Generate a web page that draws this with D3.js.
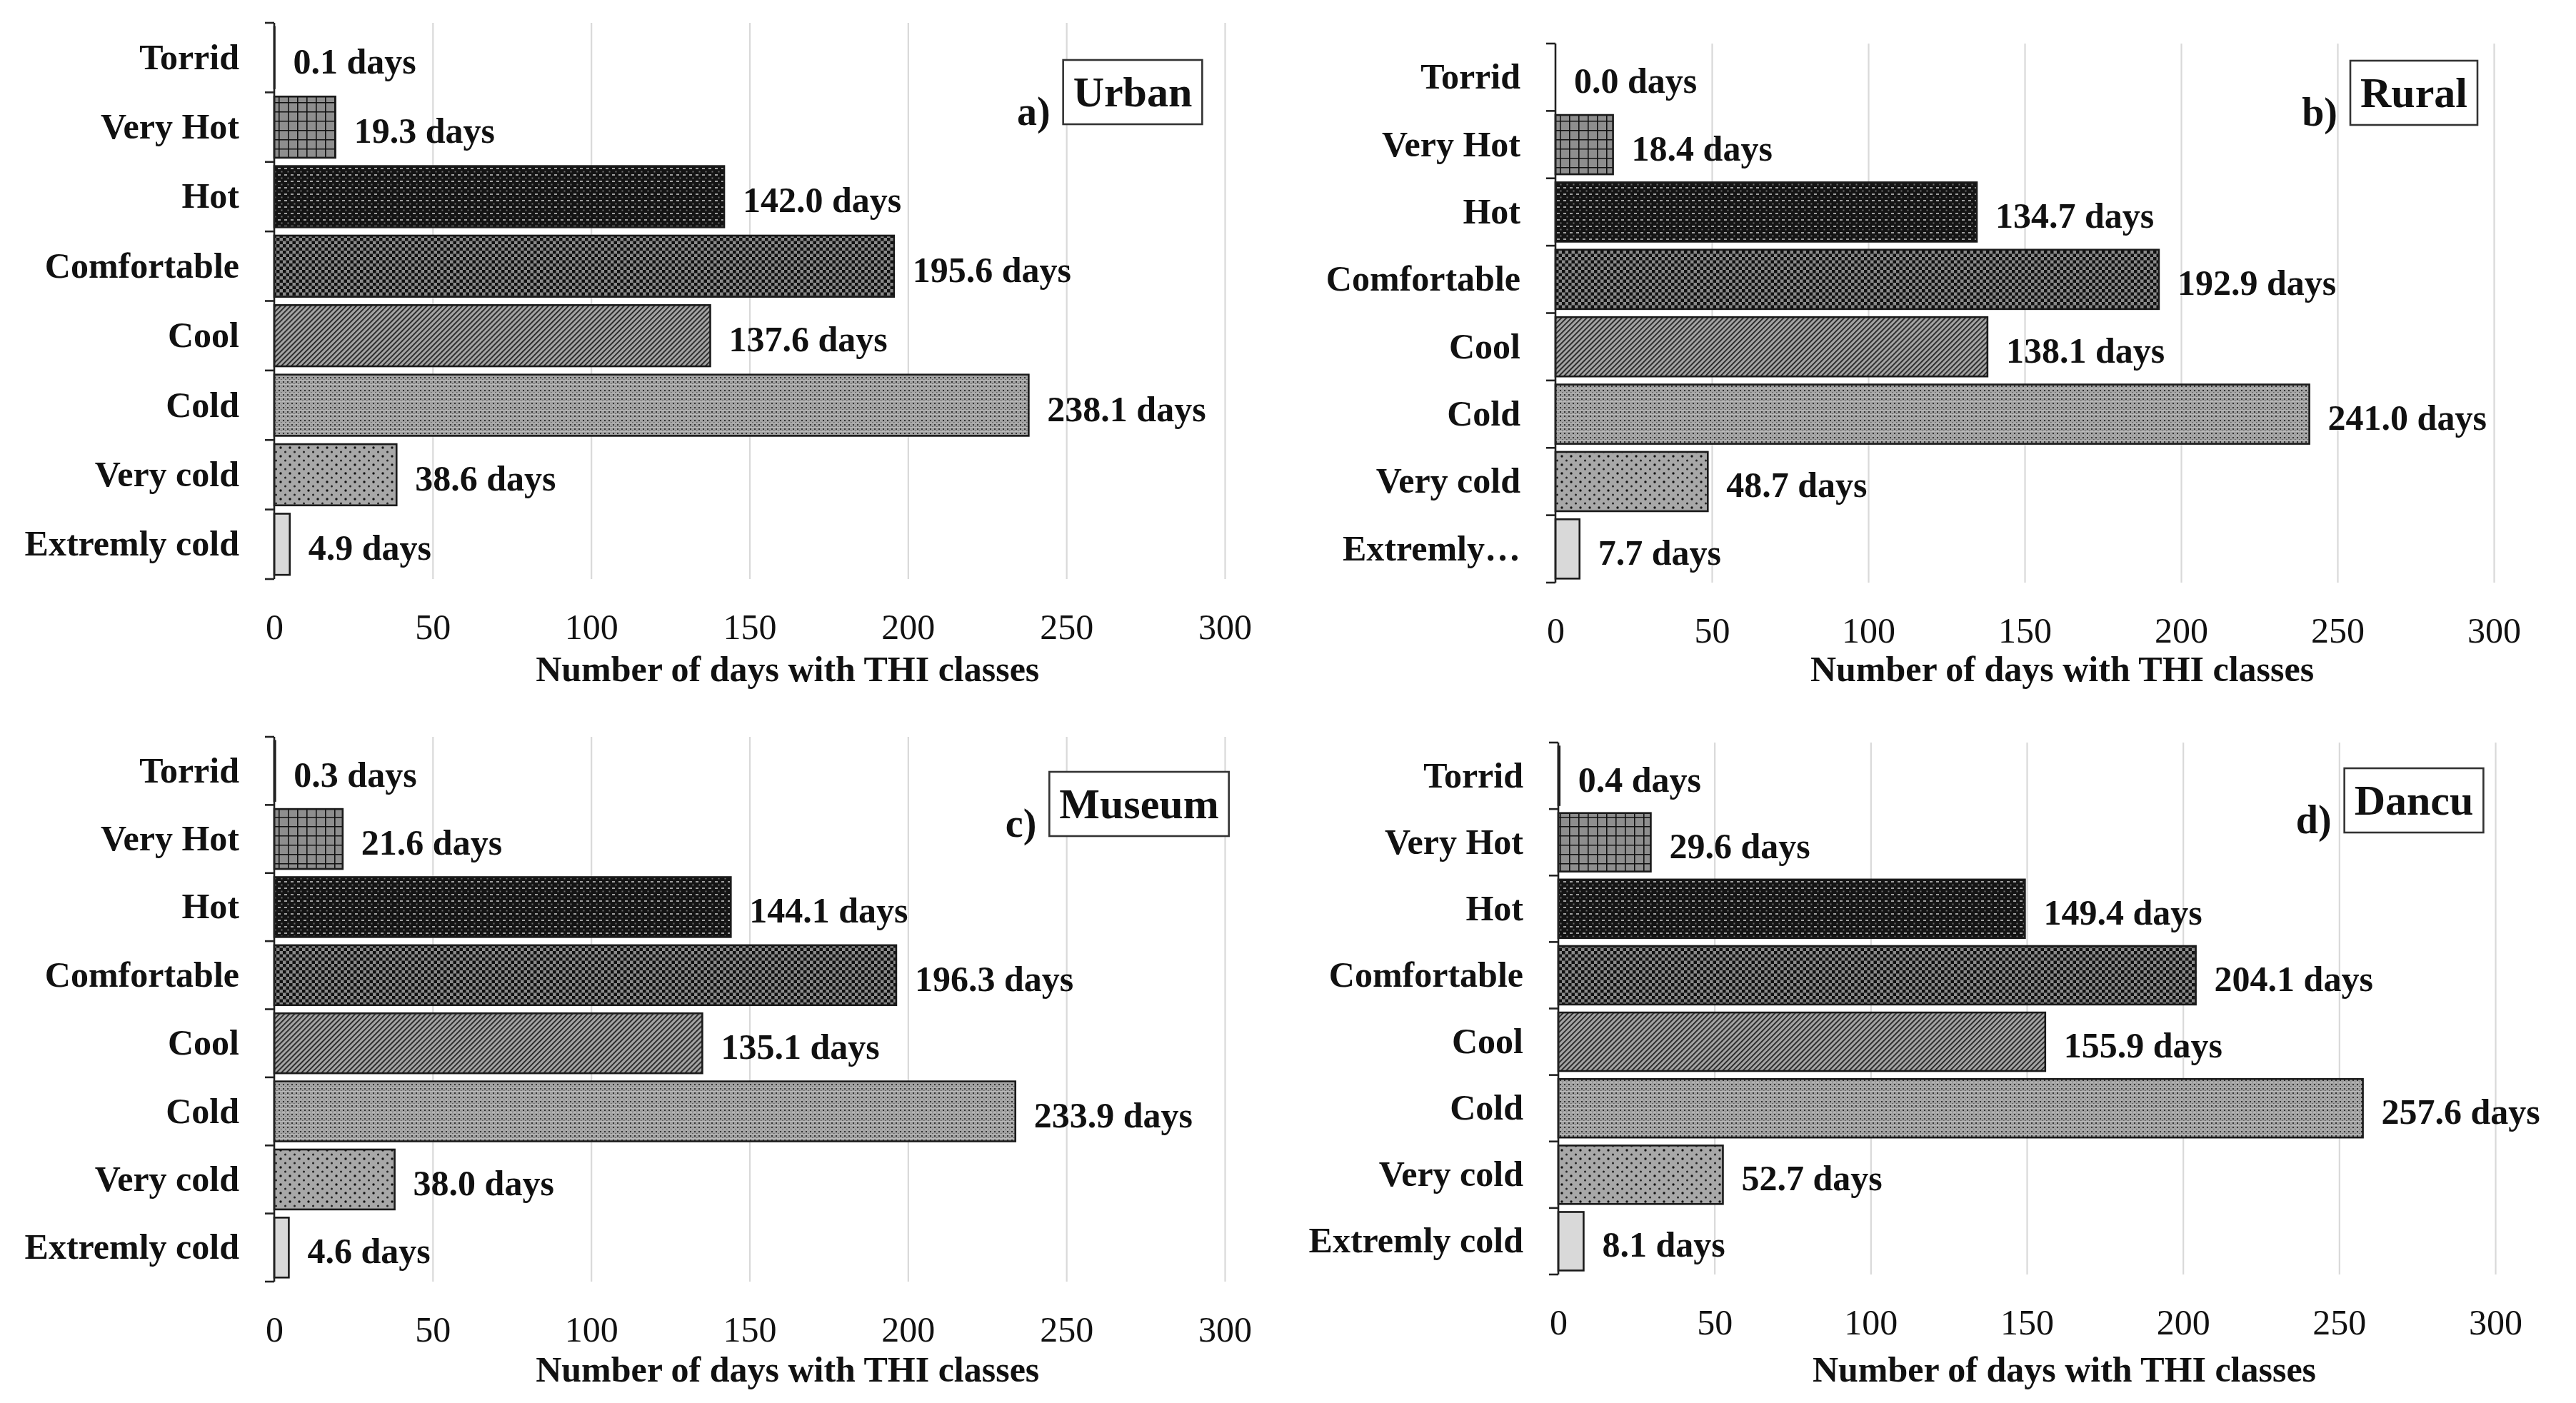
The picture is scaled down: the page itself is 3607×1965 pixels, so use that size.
<!DOCTYPE html>
<html lang="en">
<head>
<meta charset="UTF-8">
<title>THI classes</title>
<style>
  body { margin: 0; background: #fff; }
  svg { display: block; }
  text { font-family: "Liberation Serif", "Times New Roman", serif; fill: #111; }
</style>
</head>
<body>
<div id="chart"></div>
<script src="https://d3js.org/d3.v7.min.js"></script>
<script>
// category names (top to bottom) and days per THI class for each station
const categories = ["Torrid", "Very Hot", "Hot", "Comfortable", "Cool", "Cold", "Very cold", "Extremly cold"];
const ruralLabels = ["Torrid", "Very Hot", "Hot", "Comfortable", "Cool", "Cold", "Very cold", "Extremly…"];
const urbanDays  = [0.1, 19.3, 142.0, 195.6, 137.6, 238.1, 38.6, 4.9];
const ruralDays  = [0.0, 18.4, 134.7, 192.9, 138.1, 241.0, 48.7, 7.7];
const museumDays = [0.3, 21.6, 144.1, 196.3, 135.1, 233.9, 38.0, 4.6];
const dancuDays  = [0.4, 29.6, 149.4, 204.1, 155.9, 257.6, 52.7, 8.1];
const xTicks = [0, 50, 100, 150, 200, 250, 300];
const axisTitle = "Number of days with THI classes";

const W = 3607, H = 1965;

// where each small chart sits on the page
const panels = [
  { tag: "a)", name: "Urban",  values: urbanDays,  labels: categories,  x0: 384,  x1: 1715, top: 32,   bottom: 811,  titleY: 937,  box: [1586, 129] },
  { tag: "b)", name: "Rural",  values: ruralDays,  labels: ruralLabels, x0: 2178, x1: 3492, top: 61,   bottom: 816,  titleY: 937,  box: [3380, 130] },
  { tag: "c)", name: "Museum", values: museumDays, labels: categories,  x0: 384,  x1: 1715, top: 1032, bottom: 1795, titleY: 1918, box: [1595, 1126] },
  { tag: "d)", name: "Dancu",  values: dancuDays,  labels: categories,  x0: 2182, x1: 3494, top: 1040, bottom: 1785, titleY: 1918, box: [3380, 1121] }
];

const svg = d3.select("#chart").append("svg")
  .attr("width", W).attr("height", H);

// hatch fills, roughly like the Excel pattern fills
const defs = svg.append("defs");

function pattern(id, w, h, bg) {
  const p = defs.append("pattern").attr("id", id)
    .attr("patternUnits", "userSpaceOnUse")
    .attr("width", w).attr("height", h);
  p.append("rect").attr("width", w).attr("height", h).attr("fill", bg);
  return p;
}

// Very Hot: large grid
let p = pattern("p-veryhot", 13, 13, "#8e8e8e");
p.append("path").attr("d", "M0,0H13M0,0V13").attr("stroke", "#111").attr("stroke-width", 3.2);

// Hot: dark with light dashes
p = pattern("p-hot", 9, 9, "#141414");
p.append("rect").attr("x", 2).attr("y", 1).attr("width", 4).attr("height", 2).attr("fill", "#a0a0a0");
p.append("rect").attr("x", 6.5).attr("y", 5.5).attr("width", 2).attr("height", 2).attr("fill", "#707070");

// Comfortable: small checker board
p = pattern("p-comf", 9, 9, "#8a8a8a");
p.append("rect").attr("width", 4.5).attr("height", 4.5).attr("fill", "#111");
p.append("rect").attr("x", 4.5).attr("y", 4.5).attr("width", 4.5).attr("height", 4.5).attr("fill", "#111");

// Cool: upward diagonal
p = pattern("p-cool", 5, 5, "#a4a4a4").attr("patternTransform", "rotate(45)");
p.append("rect").attr("width", 1.8).attr("height", 5).attr("fill", "#222");

// Cold: fine dotted grid
p = pattern("p-cold", 6, 6, "#a2a2a2");
p.append("rect").attr("width", 2).attr("height", 2).attr("fill", "#333");
p.append("rect").attr("x", 3).attr("y", 3).attr("width", 1.6).attr("height", 1.6).attr("fill", "#5a5a5a");
p.append("rect").attr("x", 0).attr("y", 4).attr("width", 6).attr("height", 0.8).attr("fill", "#c4c4c4");

// Very cold: sparse dots
p = pattern("p-vcold", 13, 12, "#a8a8a8");
p.append("circle").attr("cx", 3).attr("cy", 3).attr("r", 1.7).attr("fill", "#111");
p.append("circle").attr("cx", 9.5).attr("cy", 9).attr("r", 1.5).attr("fill", "#222");

const fills = ["#ffffff", "url(#p-veryhot)", "url(#p-hot)", "url(#p-comf)",
               "url(#p-cool)", "url(#p-cold)", "url(#p-vcold)", "#d9d9d9"];

panels.forEach(drawPanel);

function drawPanel(pn) {
  const g = svg.append("g");

  const x = d3.scaleLinear().domain([0, 300]).range([pn.x0, pn.x1]);
  const y = d3.scaleBand().domain(pn.labels).range([pn.top, pn.bottom])
    .paddingInner(0.12).paddingOuter(0.06);

  // vertical grid
  g.append("g")
    .attr("transform", `translate(0,${pn.bottom})`)
    .call(d3.axisBottom(x).tickValues(xTicks.slice(1)).tickSize(-(pn.bottom - pn.top)).tickFormat(""))
    .call(s => s.select(".domain").remove())
    .call(s => s.selectAll("line").attr("stroke", "#d9d9d9").attr("stroke-width", 2.2));

  // tick labels
  g.append("g")
    .attr("transform", `translate(0,${pn.bottom + 48})`)
    .call(d3.axisBottom(x).tickValues(xTicks).tickSize(0).tickPadding(0))
    .call(s => s.select(".domain").remove())
    .call(s => s.selectAll("text")
      .attr("font-size", 50).attr("font-family", "Liberation Serif, serif").attr("fill", "#111"));

  g.append("text")
    .attr("x", x(162)).attr("y", pn.titleY)
    .attr("text-anchor", "middle").attr("dominant-baseline", "central")
    .attr("font-size", 50).attr("font-weight", "bold")
    .text(axisTitle);

  // bars
  const rows = pn.labels.map((c, i) => ({ cat: c, v: pn.values[i], fill: fills[i] }));

  g.append("g").selectAll("rect")
    .data(rows)
    .join("rect")
    .attr("x", x(0))
    .attr("y", d => y(d.cat))
    .attr("width", d => x(d.v) - x(0))
    .attr("height", y.bandwidth())
    .attr("fill", d => d.fill)
    .attr("stroke", "#1a1a1a")
    .attr("stroke-width", 2.6);

  // y axis with ticks on the category boundaries
  const step = y.step();
  const bounds = d3.range(pn.labels.length + 1).map(i => pn.top + i * step);
  g.append("line")
    .attr("x1", x(0)).attr("x2", x(0))
    .attr("y1", pn.top).attr("y2", pn.bottom)
    .attr("stroke", "#222").attr("stroke-width", 2.6);
  g.append("g").selectAll("line")
    .data(bounds)
    .join("line")
    .attr("x1", x(0) - 13).attr("x2", x(0))
    .attr("y1", d => d).attr("y2", d => d)
    .attr("stroke", "#222").attr("stroke-width", 2.6);

  g.append("g")
    .attr("transform", `translate(${x(0)},0)`)
    .call(d3.axisLeft(y).tickSize(0).tickPadding(49))
    .call(s => s.select(".domain").remove())
    .call(s => s.selectAll("text")
      .attr("font-size", 50).attr("font-weight", "bold")
      .attr("font-family", "Liberation Serif, serif").attr("fill", "#111"));

  // value labels
  g.append("g").selectAll("text")
    .data(rows)
    .join("text")
    .attr("x", d => x(d.v) + 26)
    .attr("y", d => y(d.cat) + y.bandwidth() / 2 + 5)
    .attr("dominant-baseline", "central")
    .attr("font-size", 50).attr("font-weight", "bold")
    .text(d => d.v.toFixed(1) + " days");

  // panel title in a box
  const [bx, by] = pn.box;
  const box = g.append("rect");
  const t = g.append("text")
    .attr("x", bx).attr("y", by)
    .attr("text-anchor", "middle").attr("dominant-baseline", "central")
    .attr("font-size", 60).attr("font-weight", "bold")
    .text(pn.name);
  const bb = t.node().getBBox();
  box.attr("x", bb.x - 14).attr("y", by - 45)
    .attr("width", bb.width + 28).attr("height", 90)
    .attr("fill", "#fff").attr("stroke", "#333").attr("stroke-width", 2.6);
  g.append("text")
    .attr("x", bb.x - 32).attr("y", by + 27)
    .attr("text-anchor", "end").attr("dominant-baseline", "central")
    .attr("font-size", 56).attr("font-weight", "bold")
    .text(pn.tag);
}
</script>
</body>
</html>
